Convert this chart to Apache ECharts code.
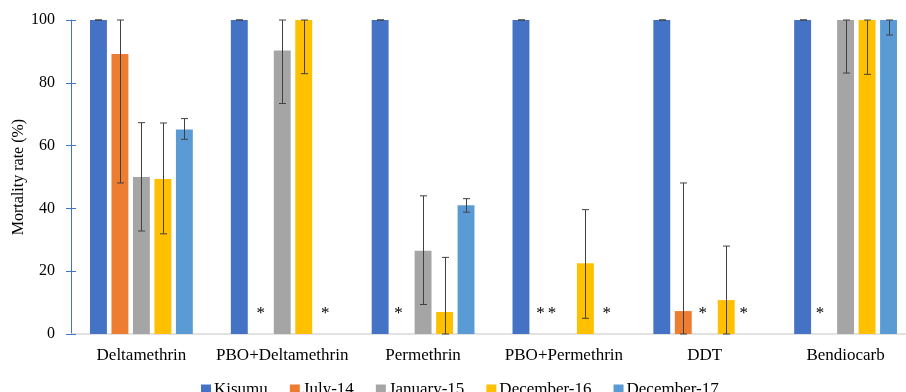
<!DOCTYPE html>
<html><head><meta charset="utf-8">
<script src="https://cdn.jsdelivr.net/npm/echarts@6/dist/echarts.min.js"></script>
<style>html,body{margin:0;padding:0;background:#fff}#c{width:906px;height:392px}</style>
</head><body><div id="c"></div>
<script>
var categories = ['Deltamethrin','PBO+Deltamethrin','Permethrin','PBO+Permethrin','DDT','Bendiocarb'];
var seriesNames = ['Kisumu','July-14','January-15','December-16','December-17'];
var yTicks = [0,20,40,60,80,100];
// values (null = not tested, marked with *)
var kisumu = [100,100,100,100,100,100];
var july14 = [89.2,null,null,null,7.3,null];
var jan15  = [50.0,90.3,26.5,null,null,100];
var dec16  = [49.4,100,7.0,22.5,10.8,100];
var dec17  = [65.1,null,41.0,null,null,100];
// error bar lower / upper limits
var kisumuLow = [100,100,100,100,100,100];
var kisumuHigh= [100,100,100,100,100,100];
var july14Low = [48.1,null,null,null,0,null];
var july14High= [100,null,null,null,48.1,null];
var jan15Low  = [32.8,73.4,9.4,null,null,83.1];
var jan15High = [67.3,100,44.0,null,null,100];
var dec16Low  = [31.9,82.9,0,5.0,0,82.7];
var dec16High = [67.2,100,24.4,39.6,28.0,100];
var dec17Low  = [62.0,null,38.8,null,null,95.2];
var dec17High = [68.6,null,43.1,null,null,100];

var colors = ['#4472C4','#ED7D31','#A5A5A5','#FFC000','#5B9BD5'];
var values = [kisumu,july14,jan15,dec16,dec17];
var lows = [kisumuLow,july14Low,jan15Low,dec16Low,dec17Low];
var highs = [kisumuHigh,july14High,jan15High,dec16High,dec17High];
// horizontal nudges (px) of the * markers, keyed "series-category"
var starNudge = {'1-2':-3,'1-3':-2,'2-3':-12,'2-4':-2,'4-4':-4,'1-5':-4};

var font = 'Liberation Serif';
var gapRatio = 0.27, catGapRatio = 0.27, nBars = 5;

var series = [];
values.forEach(function(arr, si){
  series.push({
    name: seriesNames[si], type: 'bar', yAxisIndex: 0,
    barGap: (gapRatio*100)+'%', barCategoryGap: (catGapRatio*100)+'%',
    itemStyle: {color: colors[si]},
    data: arr.map(function(v, ci){
      if (v === null) {
        return {value: 0, label: {show: true, formatter: '*', position: 'top', distance: 12,
          offset: [starNudge[si+'-'+ci] || 0, 0],
          color: '#000', fontFamily: font, fontSize: 17}};
      }
      return v;
    })
  });
});
values.forEach(function(arr, si){
  var d = [];
  arr.forEach(function(v, ci){
    if (v !== null && lows[si][ci] !== null) d.push([ci, lows[si][ci], highs[si][ci]]);
  });
  series.push({
    name: seriesNames[si], type: 'custom', yAxisIndex: 0, z: 5,
    itemStyle: {color: colors[si]},
    renderItem: function(params, api){
      var ci = api.value(0);
      var band = api.size([1,0])[0];
      var b = band*(1-catGapRatio)/(nBars+(nBars-1)*gapRatio);
      var step = b*(1+gapRatio);
      var dx = (si-(nBars-1)/2)*step;
      var lo = api.coord([ci, api.value(1)]);
      var hi = api.coord([ci, api.value(2)]);
      var x = Math.round(lo[0]+dx)+0.5;
      var cw = 3.5;
      var st = {stroke:'#404040', lineWidth:1};
      return {type:'group', children:[
        {type:'line', shape:{x1:x,y1:lo[1],x2:x,y2:hi[1]}, style:st},
        {type:'line', shape:{x1:x-cw,y1:lo[1],x2:x+cw,y2:lo[1]}, style:st},
        {type:'line', shape:{x1:x-cw,y1:hi[1],x2:x+cw,y2:hi[1]}, style:st}
      ]};
    },
    data: d
  });
});

var chart = echarts.init(document.getElementById('c'));
chart.setOption({
  animation: false,
  backgroundColor: '#fff',
  grid: {left: 71, top: 20, width: 845, height: 314, containLabel: false, outerBoundsMode: 'none'},
  legend: {
    data: seriesNames, left: 196, top: 376, icon: 'rect',
    itemWidth: 10, itemHeight: 10, itemGap: 22,
    textStyle: {fontFamily: font, fontSize: 17, color: '#000', padding: [0,0,0,-2]}
  },
  xAxis: {
    type: 'category', data: categories,
    axisLine: {lineStyle: {color: '#D9D9D9', width: 1.5}},
    axisTick: {show: false},
    axisLabel: {fontFamily: font, fontSize: 17, color: '#000', margin: 13, interval: 0}
  },
  yAxis: [{
    type: 'value', min: yTicks[0], max: yTicks[yTicks.length-1], interval: 20,
    name: 'Mortality rate (%)', nameLocation: 'middle', nameGap: 44, nameMoveOverlap: false,
    nameTextStyle: {fontFamily: font, fontSize: 16, color: '#000'},
    axisLine: {show: true, lineStyle: {color: '#4472C4', width: 1}},
    axisTick: {show: true, length: 5, lineStyle: {color: '#4472C4'}},
    axisLabel: {fontFamily: font, fontSize: 16, color: '#000', margin: 16},
    splitLine: {show: false}
  },{
    type: 'value', min: yTicks[0], max: yTicks[yTicks.length-1], interval: 20, position: 'left',
    axisLine: {show: false},
    axisTick: {show: true, inside: true, length: 5, lineStyle: {color: '#4472C4'}},
    axisLabel: {show: false}, splitLine: {show: false}
  }],
  series: series
});
</script></body></html>
